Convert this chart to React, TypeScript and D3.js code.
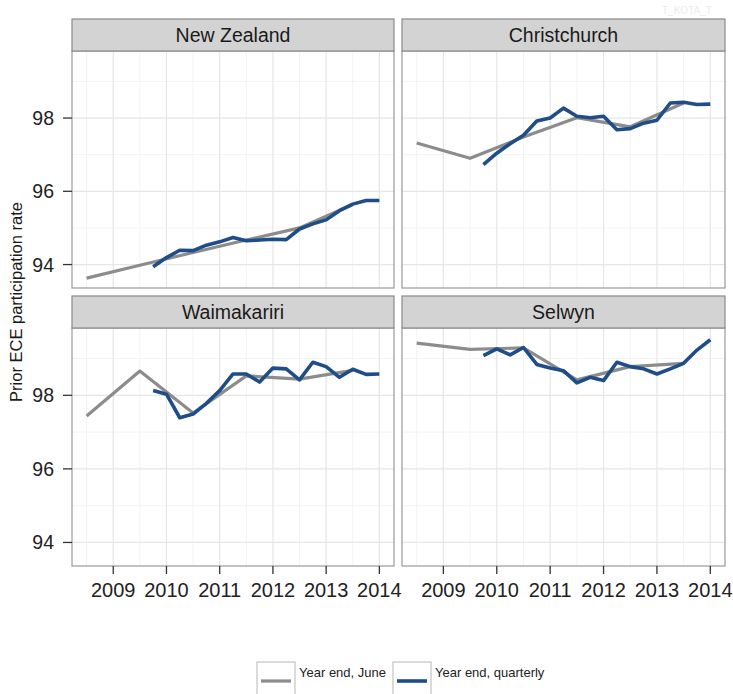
import React from "react";
import * as d3 from "d3";

const panelNames = ["New Zealand", "Christchurch", "Waimakariri", "Selwyn"];

const annualYears = [2008.5, 2009.5, 2010.5, 2011.5, 2012.5, 2013.5];
const quarterYears = [
  2009.75, 2010.0, 2010.25, 2010.5, 2010.75, 2011.0, 2011.25, 2011.5, 2011.75,
  2012.0, 2012.25, 2012.5, 2012.75, 2013.0, 2013.25, 2013.5, 2013.75, 2014.0,
];

const nzAnnual = [93.63, 93.98, 94.33, 94.67, 95.0, 95.64];
const nzQuarterly = [
  93.94, 94.19, 94.39, 94.38, 94.53, 94.62, 94.74, 94.65, 94.67, 94.69, 94.68,
  94.97, 95.11, 95.22, 95.47, 95.65, 95.75, 95.75,
];
const chchAnnual = [97.32, 96.9, 97.48, 98.01, 97.76, 98.41];
const chchQuarterly = [
  96.73, 97.04, 97.3, 97.53, 97.92, 98.0, 98.27, 98.05, 98.01, 98.05, 97.68,
  97.71, 97.86, 97.94, 98.41, 98.43, 98.37, 98.38,
];
const waimAnnual = [97.44, 98.66, 97.52, 98.53, 98.44, 98.68];
const waimQuarterly = [
  98.13, 98.03, 97.39, 97.49, 97.78, 98.13, 98.58, 98.58, 98.36, 98.74, 98.72,
  98.42, 98.9, 98.78, 98.49, 98.71, 98.57, 98.58,
];
const selwynAnnual = [99.42, 99.25, 99.29, 98.42, 98.78, 98.87];
const selwynQuarterly = [
  99.08, 99.26, 99.1, 99.3, 98.84, 98.74, 98.67, 98.34, 98.49, 98.4, 98.9,
  98.78, 98.72, 98.58, 98.72, 98.87, 99.23, 99.51,
];

const annualSeries = [nzAnnual, chchAnnual, waimAnnual, selwynAnnual];
const quarterlySeries = [nzQuarterly, chchQuarterly, waimQuarterly, selwynQuarterly];

const xMajor = [2009, 2010, 2011, 2012, 2013, 2014];
const xMinor = [2008.5, 2009.5, 2010.5, 2011.5, 2012.5, 2013.5];
const yMajor = [94, 96, 98];
const yMinor = [95, 97, 99];

const legendLabels = ["Year end, June", "Year end, quarterly"];
const yTitle = "Prior ECE participation rate";

const FONT = "'Liberation Sans', Arial, Helvetica, sans-serif";
const GRAY = "#8c8c8c";
const BLUE = "#1e4d88";

const cols = [
  { x0: 72, x1: 394 },
  { x0: 402, x1: 725 },
];
const rows = [
  { s0: 19, p0: 51, p1: 288 },
  { s0: 296, p0: 328, p1: 566 },
];

function Panel({ idx }: { idx: number }) {
  const c = cols[idx % 2];
  const r = rows[Math.floor(idx / 2)];
  const x = d3.scaleLinear().domain([2008.225, 2014.275]).range([c.x0, c.x1]);
  const y = d3.scaleLinear().domain([93.36, 99.83]).range([r.p1, r.p0]);
  const line = d3
    .line<[number, number]>()
    .x((d) => x(d[0]))
    .y((d) => y(d[1]));
  const ann = annualYears.map((yr, i) => [yr, annualSeries[idx][i]] as [number, number]);
  const qtr = quarterYears.map((yr, i) => [yr, quarterlySeries[idx][i]] as [number, number]);
  const yMinorIn = yMinor.filter((v) => y(v) >= r.p0 && y(v) <= r.p1);
  const clipId = `clip${idx}`;
  return (
    <g>
      <defs>
        <clipPath id={clipId}>
          <rect x={c.x0} y={r.p0} width={c.x1 - c.x0} height={r.p1 - r.p0} />
        </clipPath>
      </defs>
      <rect x={c.x0} y={r.p0} width={c.x1 - c.x0} height={r.p1 - r.p0} fill="#fff" />
      {xMinor.map((v) => (
        <line key={"xm" + v} x1={x(v)} x2={x(v)} y1={r.p0} y2={r.p1} stroke="#f3f3f3" strokeWidth={1} />
      ))}
      {yMinorIn.map((v) => (
        <line key={"ym" + v} x1={c.x0} x2={c.x1} y1={y(v)} y2={y(v)} stroke="#f3f3f3" strokeWidth={1} />
      ))}
      {xMajor.map((v) => (
        <line key={"xM" + v} x1={x(v)} x2={x(v)} y1={r.p0} y2={r.p1} stroke="#e6e6e6" strokeWidth={1.2} />
      ))}
      {yMajor.map((v) => (
        <line key={"yM" + v} x1={c.x0} x2={c.x1} y1={y(v)} y2={y(v)} stroke="#e6e6e6" strokeWidth={1.2} />
      ))}
      <g clipPath={`url(#${clipId})`}>
        <path d={line(ann) || ""} fill="none" stroke={GRAY} strokeWidth={3.2} strokeLinejoin="round" />
        <path d={line(qtr) || ""} fill="none" stroke={BLUE} strokeWidth={3.6} strokeLinejoin="round" />
      </g>
      <rect x={c.x0} y={r.p0} width={c.x1 - c.x0} height={r.p1 - r.p0} fill="none" stroke="#9a9a9a" strokeWidth={1.2} />
      <rect x={c.x0} y={r.s0} width={c.x1 - c.x0} height={r.p0 - r.s0} fill="#d3d3d3" stroke="#8a8a8a" strokeWidth={1.2} />
      <text
        x={(c.x0 + c.x1) / 2}
        y={(r.s0 + r.p0) / 2}
        dy="0.36em"
        textAnchor="middle"
        fontFamily={FONT}
        fontSize={19.5}
        fill="#1a1a1a"
      >
        {panelNames[idx]}
      </text>
      {idx % 2 === 0 &&
        yMajor.map((v) => (
          <g key={"yt" + v}>
            <line x1={c.x0 - 9} x2={c.x0} y1={y(v)} y2={y(v)} stroke="#333" strokeWidth={1.3} />
            <text x={c.x0 - 18} y={y(v)} dy="0.36em" textAnchor="end" fontFamily={FONT} fontSize={19.5} fill="#222">
              {v}
            </text>
          </g>
        ))}
      {idx >= 2 &&
        xMajor.map((v) => (
          <g key={"xt" + v}>
            <line x1={x(v)} x2={x(v)} y1={r.p1} y2={r.p1 + 8} stroke="#333" strokeWidth={1.3} />
            <text x={x(v)} y={r.p1 + 31} textAnchor="middle" fontFamily={FONT} fontSize={20} fill="#222">
              {v}
            </text>
          </g>
        ))}
    </g>
  );
}

export default function App() {
  const legendItems = [
    { boxX: 257, label: legendLabels[0], color: GRAY, w: 3.2 },
    { boxX: 393, label: legendLabels[1], color: BLUE, w: 3.6 },
  ];
  return (
    <svg
      width={733}
      height={694}
      style={{ position: "absolute", left: 0, top: 0, background: "#fff" }}
    >
      <rect x={0} y={0} width={733} height={694} fill="#fff" />
      <text x={662} y={14} fontFamily={FONT} fontSize={10} fill="#ececec">
        T_KOTA_T
      </text>
      {panelNames.map((_, i) => (
        <Panel key={i} idx={i} />
      ))}
      <text
        transform="translate(22,302) rotate(-90)"
        textAnchor="middle"
        fontFamily={FONT}
        fontSize={16.5}
        fill="#1a1a1a"
      >
        {yTitle}
      </text>
      {legendItems.map((it) => (
        <g key={it.label}>
          <rect x={it.boxX} y={662} width={38} height={38} fill="#fff" stroke="#c4c4c4" strokeWidth={1.2} />
          <line x1={it.boxX + 4} x2={it.boxX + 34} y1={681} y2={681} stroke={it.color} strokeWidth={it.w} />
          <text x={it.boxX + 42} y={677} fontFamily={FONT} fontSize={13} fill="#222">
            {it.label}
          </text>
        </g>
      ))}
    </svg>
  );
}
